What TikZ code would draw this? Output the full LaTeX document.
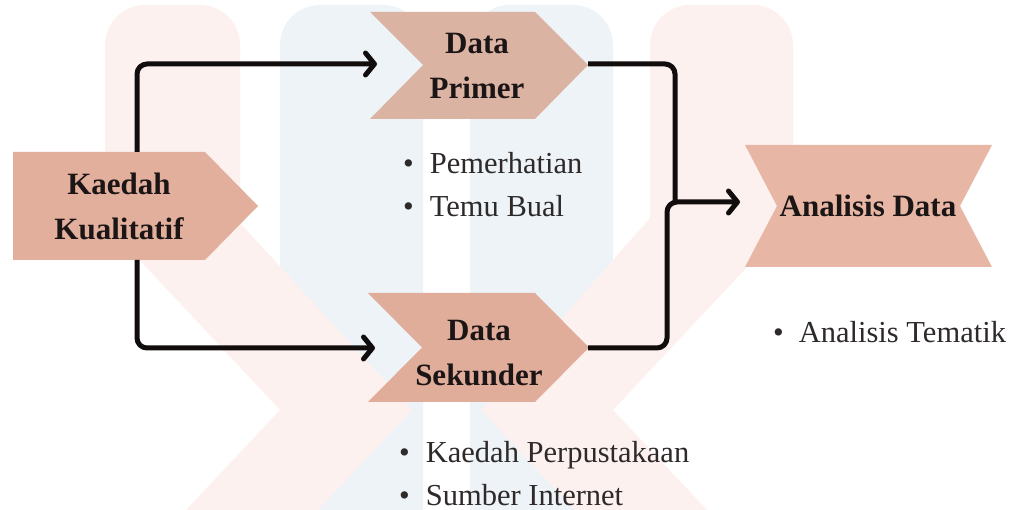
\documentclass[tikz,border=0pt]{standalone}
\usepackage{fontspec}
\setmainfont{Liberation Serif}
\usetikzlibrary{arrows.meta}
\definecolor{pinkW}{HTML}{FDF1F0}
\definecolor{blueW}{HTML}{EDF3F7}
\definecolor{shapeK}{HTML}{E2AF9D}
\definecolor{shapeP}{HTML}{DBB3A3}
\definecolor{shapeS}{HTML}{E1AD9B}
\definecolor{shapeA}{HTML}{E7B6A4}
\definecolor{labelC}{HTML}{1C1515}
\definecolor{itemC}{HTML}{2E2A2A}
\definecolor{lineC}{HTML}{120D0D}
\begin{document}
\begin{tikzpicture}[x=1pt,y=-1pt,
  lbl/.style={inner sep=0pt, align=center, text=labelC, font=\fontsize{31}{45}\selectfont\bfseries},
  item/.style={inner sep=0pt, anchor=base west, text=itemC, font=\fontsize{30.5}{36}\selectfont},
  link/.style={line width=5pt, draw=lineC, rounded corners=10pt},
  conn/.style={link, -{Straight Barb[length=9pt,width=22pt,round]}}]
\useasboundingbox (0,0) rectangle (1018,510);
\fill[white] (0,0) rectangle (1018,510);
% faint watermark
\begin{scope}
\clip (0,0) rectangle (1018,510);
\fill[blueW, rounded corners=40pt] (280,600) -- (280,5) -- (423,5) -- (423,600) -- cycle;
\fill[blueW, rounded corners=40pt] (470,600) -- (470,5) -- (613,5) -- (613,600) -- cycle;
\fill[pinkW, rounded corners=40pt] (105,300) -- (105,5) -- (240,5) -- (240,300) -- cycle;
\fill[pinkW, rounded corners=40pt] (650,300) -- (650,5) -- (793,5) -- (793,300) -- cycle;
\fill[white] (60,223) -- (105,223) -- (280,410) -- (139,560) -- (60,560) -- cycle;
\fill[white] (840,218) -- (793,218) -- (613,410) -- (754,560) -- (840,560) -- cycle;
\fill[pinkW] (105,223) -- (280,410) -- (139,560) -- (271,560) -- (412,410) -- (240,223) -- cycle;
\fill[pinkW] (793,218) -- (613,410) -- (754,560) -- (622,560) -- (481,410) -- (650,218) -- cycle;
\end{scope}
% shapes
\fill[shapeK] (13,152) -- (205,152) -- (258,206) -- (205,260) -- (13,260) -- cycle;
\fill[shapeP] (370,12) -- (535,12) -- (588,65) -- (535,119) -- (370,119) -- (423,65) -- cycle;
\fill[shapeS] (368,293) -- (535,293) -- (589,347.5) -- (535,402) -- (368,402) -- (422,347.5) -- cycle;
\fill[shapeA] (745,145) -- (992,145) -- (960,206) -- (992,267) -- (745,267) -- (777,206) -- cycle;
% labels
\node[lbl] (kq) at (119,206) {Kaedah\\Kualitatif};
\node[lbl] (dp) at (477,66) {Data\\Primer};
\node[lbl] (ds) at (479,353) {Data\\Sekunder};
\node[lbl] (ad) at (868,206) {Analisis Data};
% bullet items
\node[item] (p1) at (403,174) {•\hspace{16pt}Pemerhatian};
\node[item] (p2) at (403,217) {•\hspace{16pt}Temu Bual};
\node[item] (s1) at (399,463) {•\hspace{16pt}Kaedah Perpustakaan};
\node[item] (s2) at (399,505) {•\hspace{16pt}Sumber Internet};
\node[item] (a1) at (773,343) {•\hspace{15pt}Analisis Tematik};
% connection points
\coordinate (kqN) at (137,152);
\coordinate (kqS) at (137,260);
\coordinate (dpIn) at (377,64);
\coordinate (dsIn) at (375,348);
\coordinate (dpOut) at (588,64);
\coordinate (dsOut) at (588,348);
\coordinate (joinA) at (675,202);
\coordinate (joinB) at (667,202);
\coordinate (adIn) at (740,202);
% connectors
\draw[conn] (kqN) |- (dpIn);
\draw[conn] (kqS) |- (dsIn);
\draw[link] (dpOut) -| (joinA);
\draw[conn] (dsOut) -| (joinB) -- (adIn);
\end{tikzpicture}
\end{document}
